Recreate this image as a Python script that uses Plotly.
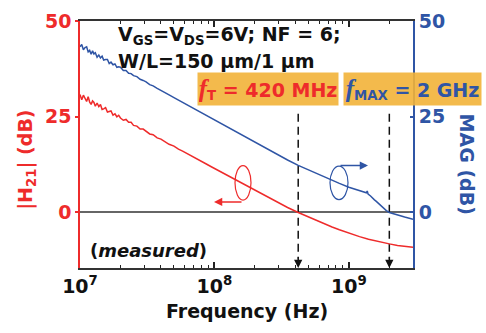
import numpy as np
import plotly.graph_objects as go

# ---------------- data ----------------
freq_h21 = [1.00e7, 1.03e7, 1.06e7, 1.09e7, 1.12e7, 1.15e7, 1.18e7, 1.21e7, 1.24e7, 1.27e7,
            1.30e7, 1.34e7, 1.38e7, 1.42e7, 1.46e7, 1.50e7, 1.55e7, 1.60e7, 1.65e7, 1.70e7,
            1.76e7, 1.82e7, 1.88e7, 1.94e7, 2.00e7, 2.10e7, 2.20e7, 2.30e7, 2.40e7, 2.50e7,
            2.65e7, 2.80e7, 2.95e7, 3.10e7, 3.30e7, 3.50e7, 3.75e7, 4.00e7, 4.30e7, 4.60e7,
            5.00e7, 5.40e7, 5.80e7, 6.30e7, 6.80e7, 7.40e7, 8.00e7, 8.70e7, 9.40e7,
            1.00e8, 1.30e8, 1.55e8, 2.00e8, 2.50e8, 3.00e8, 3.50e8, 4.20e8, 5.00e8, 6.00e8,
            7.50e8, 8.50e8, 1.00e9, 1.20e9, 1.40e9, 1.60e9, 1.80e9, 2.00e9, 2.30e9, 2.60e9,
            3.00e9]
h21_db = [30.8, 29.46, 30.62, 29.89, 28.97, 30.25, 28.83, 28.23, 29.13, 28.73,
          27.74, 28.59, 27.64, 28.21, 26.88, 27.05, 27.38, 26.22, 26.47, 26.52,
          25.44, 25.76, 24.99, 25.38, 24.68, 24.08, 24.29, 23.53, 23.53, 22.74,
          22.56, 21.80, 21.77, 21.16, 20.50, 20.31, 19.49, 19.16, 18.46, 17.81,
          17.32, 16.53, 16.04, 15.31, 14.63, 14.04, 13.34, 12.65, 12.01,
          11.5, 9.3, 7.9, 5.8, 4.0, 2.6, 1.3, 0.0, -1.2, -2.4,
          -3.8, -4.5, -5.4, -6.3, -7.0, -7.5, -7.9, -8.2, -8.6, -8.9,
          -9.1]

freq_mag = [1.00e7, 1.03e7, 1.06e7, 1.09e7, 1.12e7, 1.15e7, 1.18e7, 1.21e7, 1.24e7, 1.27e7,
            1.30e7, 1.34e7, 1.38e7, 1.42e7, 1.46e7, 1.50e7, 1.55e7, 1.60e7, 1.65e7, 1.70e7,
            1.76e7, 1.82e7, 1.88e7, 1.94e7, 2.00e7, 2.10e7, 2.20e7, 2.30e7, 2.40e7, 2.50e7,
            2.65e7, 2.80e7, 2.95e7, 3.10e7, 3.30e7, 3.50e7, 3.75e7, 4.00e7, 4.30e7, 4.60e7,
            5.00e7, 5.40e7, 5.80e7, 6.30e7, 6.80e7, 7.40e7, 8.00e7, 8.70e7, 9.40e7,
            1.00e8, 1.30e8, 1.55e8, 2.00e8, 2.50e8, 3.00e8, 3.50e8, 4.20e8, 5.00e8, 6.00e8,
            7.50e8, 8.50e8, 1.00e9, 1.20e9, 1.30e9, 1.35e9, 1.37e9, 1.39e9, 1.45e9, 1.50e9,
            1.55e9, 1.60e9, 1.70e9, 1.80e9, 1.90e9, 2.00e9, 2.30e9, 2.60e9, 3.00e9]
mag_db = [43.30, 43.85, 42.51, 43.08, 43.25, 41.93, 42.31, 41.30, 42.20, 41.40,
          41.70, 40.55, 41.10, 40.36, 40.83, 39.80, 39.93, 39.96, 38.90, 39.25,
          38.56, 38.78, 37.91, 38.05, 37.94, 37.08, 37.09, 36.37, 36.26, 35.72,
          35.48, 34.77, 34.48, 34.12, 33.39, 33.05, 32.42, 31.93, 31.22, 30.71,
          30.01, 29.36, 28.77, 28.07, 27.43, 26.72, 26.07, 25.37, 24.72,
          24.2, 22.0, 20.5, 18.4, 16.5, 15.0, 13.7, 12.3, 11.1, 9.9,
          8.4, 7.6, 6.6, 5.7, 5.3, 5.15, 5.6, 4.8, 4.3, 3.7,
          3.3, 2.9, 2.0, 1.2, 0.5, 0.0, -0.7, -1.2, -1.8]

f_T = 420e6
f_MAX = 2e9
x_ticks = [1e7, 1e8, 1e9]
x_ticktext = ["10<sup>7</sup>", "10<sup>8</sup>", "10<sup>9</sup>"]
x_minor = [2e7, 3e7, 4e7, 5e7, 6e7, 7e7, 8e7, 9e7,
           2e8, 3e8, 4e8, 5e8, 6e8, 7e8, 8e8, 9e8, 2e9, 3e9]
y_ticks = [0, 25, 50]
y_range = [-14.5, 50]
marker_top_db = 25.75

# ---------------- style ----------------
RED = "#EE2B2B"
BLUE = "#2F55A5"
ORANGE = "rgba(242,178,56,0.9)"
FONT = "DejaVu Sans"

W, H = 486, 333
L, R, T, B = 80, 413, 10, 268


def px(x):
    return (x - L) / (R - L)


def py(y):
    return (B - y) / (B - T)


fig = go.Figure()
# dashed marker lines at fT and fMAX
for f in (f_T, f_MAX):
    fig.add_trace(go.Scatter(x=[f, f], y=[marker_top_db, y_range[0] + 2.5], mode="lines",
                             line=dict(color="#111", width=1.5, dash="8px,5px"),
                             yaxis="y", showlegend=False, hoverinfo="skip"))
fig.add_trace(go.Scatter(x=freq_h21, y=h21_db, mode="lines",
                         line=dict(color=RED, width=1.5), yaxis="y", showlegend=False))
fig.add_trace(go.Scatter(x=freq_mag, y=mag_db, mode="lines",
                         line=dict(color=BLUE, width=1.5), yaxis="y2", showlegend=False))

bold = dict(family=FONT, weight="bold")

fig.update_layout(
    width=W, height=H,
    margin=dict(l=L, r=W - R, t=T, b=H - B, pad=0),
    paper_bgcolor="white", plot_bgcolor="white",
    xaxis=dict(type="log", range=[7, np.log10(3e9)],
               tickvals=x_ticks, ticktext=x_ticktext,
               ticks="inside", ticklen=6, tickwidth=1.5, tickcolor="#222",
               minor=dict(ticks="inside", ticklen=3, tickwidth=1.2, tickcolor="#222",
                          tickvals=x_minor, showgrid=False),
               showline=True, linecolor="#333", linewidth=2, mirror="ticks",
               showgrid=False, zeroline=False,
               tickfont=dict(size=19, color="#111", **bold)),
    yaxis=dict(range=y_range, tickvals=y_ticks,
               ticks="outside", ticklen=3, tickcolor=RED, tickwidth=1.5,
               showline=True, linecolor=RED, linewidth=1.5,
               showgrid=False, zeroline=True, zerolinecolor="#666", zerolinewidth=1.5,
               tickfont=dict(size=19, color=RED, **bold)),
    yaxis2=dict(range=y_range, tickvals=y_ticks, overlaying="y", side="right",
                ticks="inside", ticklen=3, tickcolor=BLUE, tickwidth=1.5,
                showline=True, linecolor=BLUE, linewidth=2,
                showgrid=False, zeroline=False,
                tickfont=dict(size=19, color=BLUE, **bold)),
)

anns = []
# header text
anns.append(dict(xref="paper", yref="paper", x=px(116), y=py(25), xanchor="left", yanchor="middle",
                 text="V<sub>GS</sub>=V<sub>DS</sub>=6V; NF = 6;", showarrow=False,
                 font=dict(size=19, color="#111", **bold)))
anns.append(dict(xref="paper", yref="paper", x=px(116), y=py(52), xanchor="left", yanchor="middle",
                 text="W/L=150 µm/1 µm", showarrow=False,
                 font=dict(size=19, color="#111", **bold)))
# boxes
ftxt = "<span style='font-family:Liberation Serif;font-size:25px'><i>f</i></span>"
anns.append(dict(xref="paper", yref="paper", x=px(268), y=py(81), xanchor="center", yanchor="middle",
                 text=ftxt + "<sub>T</sub> = 420 MHz", showarrow=False,
                 bgcolor=ORANGE, width=138, height=30,
                 font=dict(size=19, color=RED, **bold)))
anns.append(dict(xref="paper", yref="paper", x=px(412.5), y=py(81), xanchor="center", yanchor="middle",
                 text=ftxt + "<sub>MAX</sub> = 2 GHz", showarrow=False,
                 bgcolor=ORANGE, width=135, height=30,
                 font=dict(size=19, color=BLUE, **bold)))
# (measured)
anns.append(dict(xref="paper", yref="paper", x=px(88), y=py(250), xanchor="left", yanchor="middle",
                 text="(<i>measured</i>)", showarrow=False,
                 font=dict(size=18, color="#111", **bold)))
# axis titles
anns.append(dict(xref="paper", yref="paper", x=px(247), y=py(313), xanchor="center", yanchor="middle",
                 text="Frequency (Hz)", showarrow=False,
                 font=dict(size=19, color="#111", **bold)))
anns.append(dict(xref="paper", yref="paper", x=px(27), y=py(155), xanchor="center", yanchor="middle",
                 text="|H<sub>21</sub>| (dB)", textangle=-90, showarrow=False,
                 font=dict(size=19, color=RED, **bold)))
anns.append(dict(xref="paper", yref="paper", x=px(467), y=py(160), xanchor="center", yanchor="middle",
                 text="MAG (dB)", textangle=90, showarrow=False,
                 font=dict(size=19, color=BLUE, **bold)))
# ellipse arrows
anns.append(dict(xref="paper", yref="paper", x=px(214), y=py(199), ax=29, ay=0, text="",
                 showarrow=True, arrowhead=2, arrowsize=1.1, arrowwidth=1.5, arrowcolor=RED))
anns.append(dict(xref="paper", yref="paper", x=px(368), y=py(161), ax=-29, ay=0, text="",
                 showarrow=True, arrowhead=2, arrowsize=1.1, arrowwidth=1.5, arrowcolor=BLUE))
# dashed markers' arrowheads
for f in (f_T, f_MAX):
    anns.append(dict(xref="x", yref="y", x=np.log10(f), y=y_range[0], ax=0, ay=-12, text="",
                     showarrow=True, arrowhead=2, arrowsize=1.1, arrowwidth=1.5, arrowcolor="#111"))
fig.update_layout(annotations=anns)

shapes = []
shapes.append(dict(type="circle", xref="paper", yref="paper", x0=px(235), x1=px(251),
                   y0=py(197), y1=py(161), line=dict(color=RED, width=1.2)))
shapes.append(dict(type="circle", xref="paper", yref="paper", x0=px(330), x1=px(348),
                   y0=py(196.5), y1=py(161.5), line=dict(color=BLUE, width=1.2)))
fig.update_layout(shapes=shapes)

fig.write_html("out.html")
